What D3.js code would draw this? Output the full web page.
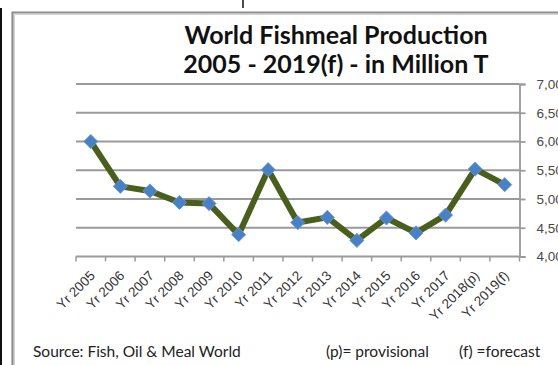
<!DOCTYPE html>
<html>
<head>
<meta charset="utf-8">
<script src="https://cdn.jsdelivr.net/npm/d3@7"></script>
<style>
  html, body { margin: 0; padding: 0; background: #fff; }
  svg { display: block; }
</style>
</head>
<body>
<svg id="chart" width="558" height="365"></svg>
<script>
// World fishmeal production, million tonnes
const categories = ["Yr 2005", "Yr 2006", "Yr 2007", "Yr 2008", "Yr 2009", "Yr 2010", "Yr 2011",
  "Yr 2012", "Yr 2013", "Yr 2014", "Yr 2015", "Yr 2016", "Yr 2017", "Yr 2018(p)", "Yr 2019(f)"];
const production = [6.00, 5.22, 5.14, 4.94, 4.92, 4.38, 5.51, 4.59, 4.68, 4.28, 4.67, 4.41, 4.72, 5.52, 5.25];
const yTicks = [4.0, 4.5, 5.0, 5.5, 6.0, 6.5, 7.0];
const titleLines = ["World Fishmeal Production", "2005 - 2019(f) - in Million T"];
const sourceNote = "Source: Fish, Oil & Meal World";
const keyNotes = ["(p)= provisional", "(f) =forecast"];

const svg = d3.select("#chart");

// outer frame
svg.append("line").attr("x1", 1).attr("x2", 1).attr("y1", 8).attr("y2", 365)
  .attr("stroke", "#111").attr("stroke-width", 2);
svg.append("line").attr("x1", 243).attr("x2", 243).attr("y1", 0).attr("y2", 8)
  .attr("stroke", "#111").attr("stroke-width", 1.5);
svg.append("path").attr("d", "M12.5,366 V12.5 H560")
  .attr("fill", "none").attr("stroke", "#8c8c8c").attr("stroke-width", 2.2);
svg.append("path").attr("d", "M14.5,366 V14.5 H560")
  .attr("fill", "none").attr("stroke", "#d0d0d0").attr("stroke-width", 1);

const x = d3.scaleBand().domain(categories).range([76, 519.5]);
const y = d3.scaleLinear().domain([4, 7]).range([256.5, 84]);

// gridlines
svg.append("g").selectAll("line").data(yTicks.filter(d => d > 4)).join("line")
  .attr("x1", x.range()[0]).attr("x2", x.range()[1])
  .attr("y1", d => y(d)).attr("y2", d => y(d))
  .attr("stroke", "#9a9a9a").attr("stroke-width", 1.8);

// value axis on the right
const yAxis = d3.axisRight(y).tickValues(yTicks).tickSize(6).tickPadding(11)
  .tickFormat(d => d.toFixed(2).replace(".", ","));
const gy = svg.append("g").attr("transform", `translate(${x.range()[1]},0)`).call(yAxis);
gy.select(".domain").attr("stroke", "#9a9a9a").attr("stroke-width", 1.8);
gy.selectAll(".tick line").attr("stroke", "#9a9a9a").attr("stroke-width", 1.8);
gy.selectAll(".tick text").attr("fill", "#4a4a4a")
  .style("font-family", "'Liberation Sans', Arial, sans-serif").style("font-size", "13.5px");

// category axis
const gx = svg.append("g");
gx.append("line").attr("x1", x.range()[0]).attr("x2", x.range()[1])
  .attr("y1", y(4)).attr("y2", y(4)).attr("stroke", "#9a9a9a").attr("stroke-width", 1.8);
const bounds = categories.map(c => x(c)).concat([x.range()[1]]);
gx.selectAll("line.tk").data(bounds).join("line").attr("class", "tk")
  .attr("x1", d => d).attr("x2", d => d).attr("y1", y(4)).attr("y2", y(4) + 5)
  .attr("stroke", "#9a9a9a").attr("stroke-width", 1.5);
gx.selectAll("text").data(categories).join("text")
  .attr("transform", d => `translate(${x(d) + x.bandwidth() / 2 + 5},${y(4) + 20}) rotate(-45)`)
  .attr("text-anchor", "end")
  .attr("fill", "#333")
  .style("font-family", "'Liberation Sans', Arial, sans-serif").style("font-size", "13.5px")
  .text(d => d);

// production line
const cx = d => x(d) + x.bandwidth() / 2;
const line = d3.line().x((d, i) => cx(categories[i])).y(d => y(d));
svg.append("path").datum(production).attr("d", line)
  .attr("fill", "none").attr("stroke", "#4a5e1e").attr("stroke-width", 6)
  .attr("stroke-linejoin", "round");

// diamond markers
const diamond = d3.symbol(d3.symbolSquare, 100);
svg.append("g").selectAll("path").data(production).join("path")
  .attr("d", diamond)
  .attr("transform", (d, i) => `translate(${cx(categories[i])},${y(d)}) rotate(45)`)
  .attr("fill", "#4a80c4").attr("stroke", "#6a98d0").attr("stroke-width", 0.8);

// title
const title = svg.append("text").attr("text-anchor", "middle")
  .attr("fill", "#111").style("font-family", "Lato, 'Open Sans', sans-serif")
  .style("font-weight", "bold").style("font-size", "25px");
titleLines.forEach((t, i) => {
  title.append("tspan").attr("x", 336).attr("y", 44 + i * 29).text(t);
});

// footnotes
const noteStyle = s => s.attr("fill", "#222")
  .style("font-family", "Lato, 'Open Sans', sans-serif").style("font-size", "15.5px");
svg.append("text").attr("x", 33).attr("y", 357).text(sourceNote).call(noteStyle);
svg.append("text").attr("x", 326).attr("y", 357).text(keyNotes[0]).call(noteStyle);
svg.append("text").attr("x", 459).attr("y", 357).text(keyNotes[1]).call(noteStyle);
</script>
</body>
</html>
